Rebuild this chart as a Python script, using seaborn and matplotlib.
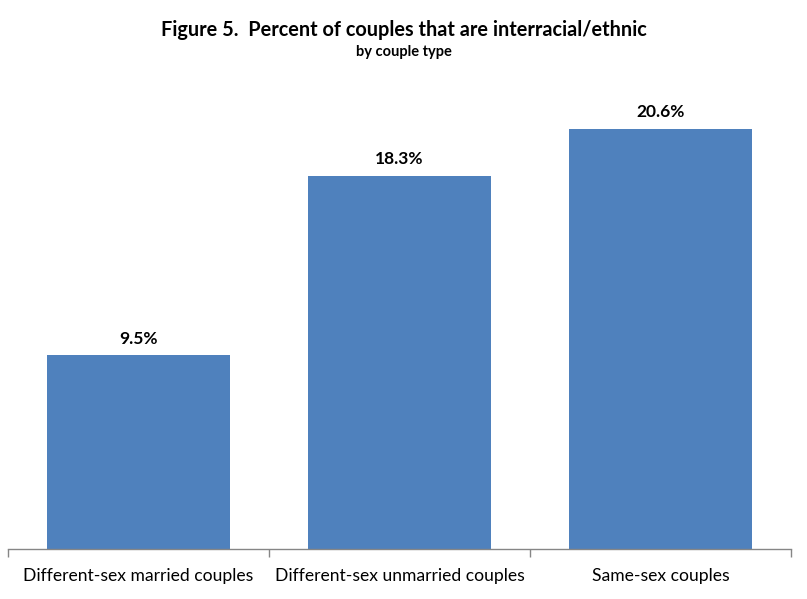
import numpy as np
import pandas as pd
import seaborn as sns
import matplotlib.pyplot as plt

categorias = ["Different-sex married couples", "Different-sex unmarried couples", "Same-sex couples"]
valores = [9.5, 18.3, 20.6]
etiquetas = ["9.5%", "18.3%", "20.6%"]

df = pd.DataFrame({"tipo": categorias, "pct": valores})

sns.set_style("white")
plt.rcParams['font.family'] = ['Lato', 'DejaVu Sans']
plt.rcParams['text.color'] = 'black'
plt.rcParams['xtick.color'] = 'black'

fig = plt.figure(figsize=(8.07, 5.99), dpi=100)
ax = fig.add_axes([8/807, 50/599, 783/807, 461/599])
sns.barplot(data=df, x="tipo", y="pct", color="#4F81BD", saturation=1, width=0.7,
            linewidth=0, edgecolor="none", ax=ax)

ax.set_xlim(-0.5, 2.5)
ax.set_ylim(0, 22.6)
for i, (v, t) in enumerate(zip(valores, etiquetas)):
    ax.annotate(t, (i, v), xytext=(0, 6), textcoords="offset points",
                ha="center", va="bottom", fontsize=12.5, fontweight="bold")

ax.set_yticks([])
ax.set_xlabel("")
ax.set_ylabel("")
for s in ["top", "right", "left"]:
    ax.spines[s].set_visible(False)
ax.spines["bottom"].set_color("#868686")
ax.spines["bottom"].set_linewidth(1)
# ticks between categories
ax.set_xticks([-0.5, 0.5, 1.5, 2.5], minor=True)
ax.tick_params(axis="x", which="minor", bottom=True, length=6, width=1,
               color="#868686", direction="out")
ax.tick_params(axis="x", which="major", length=0, labelsize=12.6, pad=14, labelcolor="black")

fig.text(0.5, 1 - 30/599, "Figure 5.  Percent of couples that are interracial/ethnic",
         ha="center", va="center", fontsize=14.3, fontweight="bold", color="black")
fig.text(0.5, 1 - 52/599, "by couple type", ha="center", va="center",
         fontsize=10.5, fontweight="bold", color="black")

fig.savefig("out.png", dpi=100)
